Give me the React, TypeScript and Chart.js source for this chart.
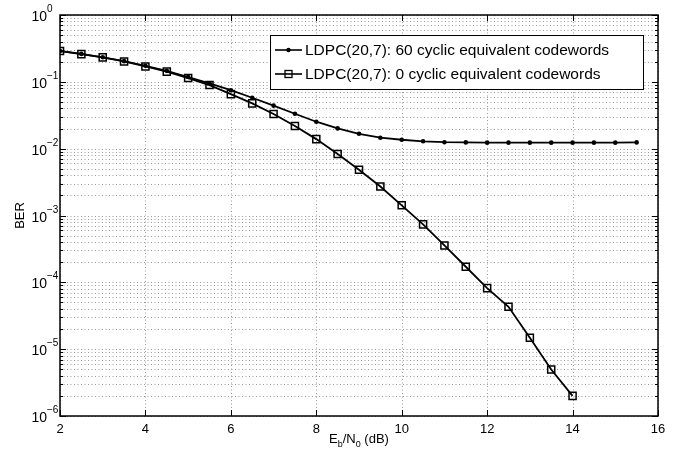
import React, { useEffect, useRef } from "react";
import { Chart, registerables } from "chart.js";

Chart.register(...registerables);

const ebn0_60: number[] = [2, 2.5, 3, 3.5, 4, 4.5, 5, 5.5, 6, 6.5, 7, 7.5, 8, 8.5, 9, 9.5, 10, 10.5, 11, 11.5, 12, 12.5, 13, 13.5, 14, 14.5, 15, 15.5];
const ber_60: number[] = [0.29, 0.262, 0.233, 0.204, 0.174, 0.146, 0.118, 0.095, 0.075, 0.0578, 0.044, 0.0333, 0.0253, 0.0201, 0.0167, 0.0146, 0.0136, 0.0129, 0.0125, 0.0124, 0.0123, 0.0123, 0.0123, 0.0123, 0.0123, 0.0123, 0.0123, 0.0124];

const ebn0_0: number[] = [2, 2.5, 3, 3.5, 4, 4.5, 5, 5.5, 6, 6.5, 7, 7.5, 8, 8.5, 9, 9.5, 10, 10.5, 11, 11.5, 12, 12.5, 13, 13.5, 14];
const ber_0: number[] = [0.289, 0.26, 0.232, 0.202, 0.17, 0.142, 0.114, 0.0895, 0.0655, 0.0476, 0.033, 0.0218, 0.0139, 0.0083, 0.00484, 0.00272, 0.00142, 0.000736, 0.000356, 0.000171, 0.000082, 0.000043, 0.0000148, 0.00000497, 0.000002];

const xTicks: number[] = [2, 4, 6, 8, 10, 12, 14, 16];
const yDecades: number[] = [-6, -5, -4, -3, -2, -1, 0];
const legendLabels: string[] = [
  "LDPC(20,7): 60 cyclic equivalent codewords",
  "LDPC(20,7): 0 cyclic equivalent codewords",
];

const FONT = "'Liberation Sans', Arial, Helvetica, sans-serif";

const matlabAxes = {
  id: "matlabAxes",
  beforeDatasetsDraw(chart: any) {
    const { ctx, chartArea: a, scales } = chart;
    const xs = scales.x;
    const ys = scales.y;
    ctx.save();
    ctx.lineWidth = 1;
    ctx.strokeStyle = "#9a9a9a";
    ctx.setLineDash([1, 2.5]);
    for (const t of xTicks) {
      const px = Math.round(xs.getPixelForValue(t)) + 0.5;
      ctx.beginPath();
      ctx.moveTo(px, a.top);
      ctx.lineTo(px, a.bottom);
      ctx.stroke();
    }
    for (const d of yDecades) {
      for (let m = 1; m <= 9; m++) {
        if (d === 0 && m > 1) continue;
        const v = m * Math.pow(10, d);
        const py = Math.round(ys.getPixelForValue(v)) + 0.5;
        ctx.beginPath();
        ctx.moveTo(a.left, py);
        ctx.lineTo(a.right, py);
        ctx.stroke();
      }
    }
    ctx.restore();
  },
  afterDatasetsDraw(chart: any) {
    const { ctx, chartArea: a, scales } = chart;
    const xs = scales.x;
    const ys = scales.y;
    ctx.save();
    ctx.setLineDash([]);
    ctx.strokeStyle = "#000";
    ctx.fillStyle = "#000";
    ctx.lineWidth = 1;
    for (const t of xTicks) {
      const px = Math.round(xs.getPixelForValue(t)) + 0.5;
      ctx.beginPath();
      ctx.moveTo(px, a.bottom);
      ctx.lineTo(px, a.bottom - 6);
      ctx.moveTo(px, a.top);
      ctx.lineTo(px, a.top + 6);
      ctx.stroke();
    }
    for (const d of yDecades) {
      for (let m = 1; m <= 9; m++) {
        if (d === 0 && m > 1) continue;
        const v = m * Math.pow(10, d);
        const py = Math.round(ys.getPixelForValue(v)) + 0.5;
        const len = m === 1 ? 6 : 3;
        ctx.beginPath();
        ctx.moveTo(a.left, py);
        ctx.lineTo(a.left + len, py);
        ctx.moveTo(a.right, py);
        ctx.lineTo(a.right - len, py);
        ctx.stroke();
      }
    }
    ctx.lineWidth = 1.5;
    ctx.strokeRect(a.left, a.top, a.right - a.left, a.bottom - a.top);

    ctx.font = `13px ${FONT}`;
    ctx.textAlign = "center";
    ctx.textBaseline = "alphabetic";
    for (const t of xTicks) {
      ctx.fillText(String(t), xs.getPixelForValue(t), a.bottom + 17);
    }
    for (const d of yDecades) {
      const py = ys.getPixelForValue(Math.pow(10, d));
      const exp = d === 0 ? "0" : "\u2212" + Math.abs(d);
      ctx.font = `14px ${FONT}`;
      ctx.textAlign = "right";
      ctx.fillText("10", a.left - 13, py + 6);
      ctx.font = `10px ${FONT}`;
      ctx.textAlign = "left";
      ctx.fillText(exp, a.left - 13, py - 3);
    }

    const parts: [string, number, number][] = [
      ["E", 13, 0],
      ["b", 9, 4],
      ["/N", 13, 0],
      ["0", 9, 4],
      [" (dB)", 13, 0],
    ];
    let total = 0;
    for (const [s, f] of parts) {
      ctx.font = `${f}px ${FONT}`;
      total += ctx.measureText(s).width;
    }
    let cx = (a.left + a.right) / 2 - total / 2;
    const baseY = a.bottom + 27;
    ctx.textAlign = "left";
    for (const [s, f, dy] of parts) {
      ctx.font = `${f}px ${FONT}`;
      ctx.fillText(s, cx, baseY + dy);
      cx += ctx.measureText(s).width;
    }

    ctx.save();
    ctx.translate(24, (a.top + a.bottom) / 2);
    ctx.rotate(-Math.PI / 2);
    ctx.font = `13px ${FONT}`;
    ctx.textAlign = "center";
    ctx.fillText("BER", 0, 0);
    ctx.restore();

    const lx = 270, ly = 35, lw = 373, lh = 54;
    ctx.fillStyle = "#fff";
    ctx.fillRect(lx, ly, lw, lh);
    ctx.lineWidth = 1;
    ctx.strokeStyle = "#000";
    ctx.strokeRect(lx + 0.5, ly + 0.5, lw, lh);
    const rows = [ly + 15, ly + 39];
    ctx.fillStyle = "#000";
    ctx.lineWidth = 1.6;
    for (let i = 0; i < 2; i++) {
      const ry = rows[i];
      ctx.beginPath();
      ctx.moveTo(275, ry);
      ctx.lineTo(302, ry);
      ctx.stroke();
      if (i === 0) {
        ctx.beginPath();
        ctx.arc(288.5, ry, 2.2, 0, Math.PI * 2);
        ctx.fill();
      } else {
        ctx.lineWidth = 1.3;
        ctx.strokeRect(285, ry - 3.5, 7, 7);
        ctx.lineWidth = 1.6;
      }
      ctx.font = `15.5px ${FONT}`;
      ctx.textAlign = "left";
      ctx.textBaseline = "middle";
      ctx.fillText(legendLabels[i], 305, ry + 1);
      ctx.textBaseline = "alphabetic";
    }
    ctx.restore();
  },
};

export default function App() {
  const canvasRef = useRef<HTMLCanvasElement | null>(null);

  useEffect(() => {
    if (!canvasRef.current) return;
    const chart = new Chart(canvasRef.current, {
      type: "line",
      data: {
        datasets: [
          {
            label: legendLabels[0],
            data: ebn0_60.map((x, i) => ({ x, y: ber_60[i] })),
            borderColor: "#000",
            backgroundColor: "#000",
            borderWidth: 1.8,
            pointStyle: "circle",
            pointRadius: 2.3,
            pointBorderWidth: 0,
            pointBackgroundColor: "#000",
            tension: 0,
          },
          {
            label: legendLabels[1],
            data: ebn0_0.map((x, i) => ({ x, y: ber_0[i] })),
            borderColor: "#000",
            backgroundColor: "transparent",
            borderWidth: 1.8,
            pointStyle: "rect",
            pointRadius: 5,
            pointBorderWidth: 1.5,
            pointBorderColor: "#000",
            pointBackgroundColor: "transparent",
            tension: 0,
          },
        ],
      },
      options: {
        responsive: false,
        animation: false,
        layout: { padding: { left: 60, right: 25, top: 15, bottom: 37 } },
        plugins: {
          legend: { display: false },
          title: { display: false },
          tooltip: { enabled: false },
        },
        scales: {
          x: { type: "linear", min: 2, max: 16, display: false },
          y: { type: "logarithmic", min: 1e-6, max: 1, display: false },
        },
      },
      plugins: [matlabAxes],
    });
    return () => chart.destroy();
  }, []);

  return (
    <div style={{ position: "absolute", left: 0, top: 0, width: 683, height: 453, background: "#fff" }}>
      <canvas ref={canvasRef} width={683} height={453} />
    </div>
  );
}
